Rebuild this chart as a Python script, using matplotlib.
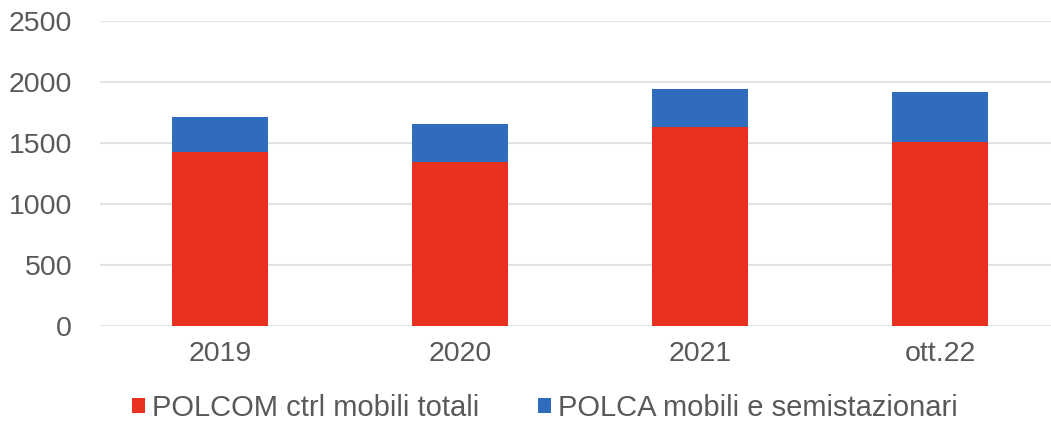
import matplotlib
matplotlib.use("Agg")
import matplotlib.pyplot as plt
import numpy as np

categories = ["2019", "2020", "2021", "ott.22"]
polcom = [1426, 1345, 1626, 1508]
polca = [282, 306, 312, 408]
series_names = ["POLCOM ctrl mobili totali", "POLCA mobili e semistazionari"]
yticks = [0, 500, 1000, 1500, 2000, 2500]

plt.rcParams['font.family'] = ['Liberation Sans', 'DejaVu Sans']
red = "#E8321F"
blue = "#2F6CBD"
txt = "#595959"

W, H = 1051, 428
fig = plt.figure(figsize=(W/100, H/100), dpi=100)
left = 100/W
bottom = (H-325.7)/H
height = (325.7-20.7)/H
ax = fig.add_axes([left, bottom, 1-left, height])

x = np.arange(len(categories))
ax.bar(x, polcom, width=0.4, color=red, label=series_names[0], zorder=3)
ax.bar(x, polca, width=0.4, bottom=polcom, color=blue, label=series_names[1], zorder=3)

ax.set_ylim(0, 2500)
ax.set_xlim(-0.5, -0.5 + (W-100)/240)
ax.set_yticks(yticks)
ax.set_xticks(x)
ax.set_xticklabels(categories)
ax.grid(axis='y', color="#e3e3e3", linewidth=1.5, zorder=0)
for s in ax.spines.values():
    s.set_visible(False)
ax.tick_params(axis='both', length=0, labelsize=20.5, colors=txt)
ax.tick_params(axis='y', pad=20)
ax.tick_params(axis='x', pad=11)

fig.legend(loc='center', bbox_to_anchor=(545/W, 1-408/H), ncol=2, frameon=False,
           fontsize=21, handlelength=0.45, handleheight=0.45, handletextpad=0.25,
           columnspacing=2.0, labelcolor=txt)

fig.savefig("out.png", dpi=100)
